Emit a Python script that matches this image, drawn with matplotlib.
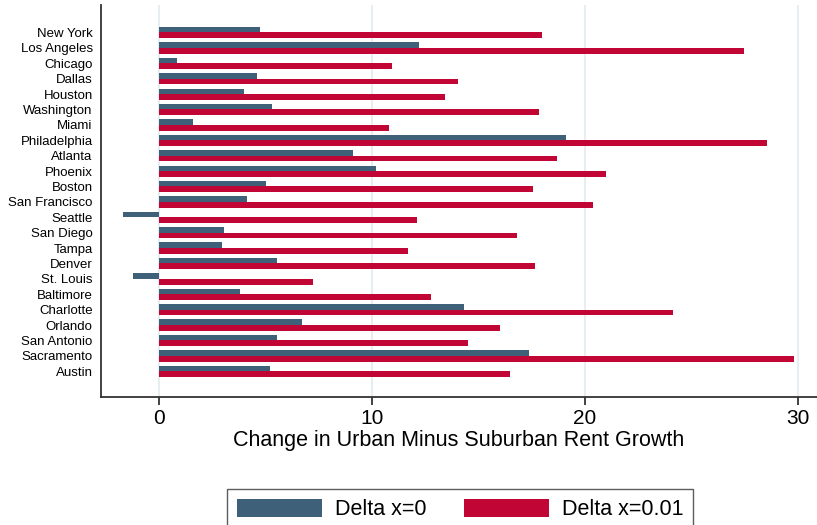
import matplotlib
matplotlib.use("Agg")
import matplotlib.pyplot as plt
import numpy as np
from matplotlib.patches import Patch

plt.rcParams['font.family'] = ['Liberation Sans', 'DejaVu Sans']

cities = ["New York", "Los Angeles", "Chicago", "Dallas", "Houston", "Washington",
          "Miami", "Philadelphia", "Atlanta", "Phoenix", "Boston", "San Francisco",
          "Seattle", "San Diego", "Tampa", "Denver", "St. Louis", "Baltimore",
          "Charlotte", "Orlando", "San Antonio", "Sacramento", "Austin"]
delta0 = [4.77, 12.23, 0.87, 4.62, 4.01, 5.33, 1.62, 19.13, 9.13, 10.21, 5.05, 4.15,
          -1.67, 3.08, 2.98, 5.56, -1.20, 3.83, 14.34, 6.74, 5.56, 17.39, 5.23]
delta001 = [18.00, 27.49, 10.96, 14.06, 13.45, 17.86, 10.82, 28.57, 18.71, 21.01, 17.58, 20.40,
            12.14, 16.83, 11.71, 17.67, 7.25, 12.79, 24.15, 16.03, 14.53, 29.84, 16.50]
xticks = [0, 10, 20, 30]
labels = ["Delta x=0", "Delta x=0.01"]
colors = ["#3e6079", "#c10534"]

fig = plt.figure(figsize=(8.17, 5.25), dpi=100)
ax = fig.add_axes([101/817, 1 - 397/525, 1 - 101/817, (397 - 5)/525])

y = np.arange(len(cities))
h = 0.37
ax.barh(y - 0.18, delta0, height=h, color=colors[0], zorder=3)
ax.barh(y + 0.18, delta001, height=h, color=colors[1], zorder=3)

ax.set_ylim(23.67, -1.79)
ax.set_xlim(-2.7, 30.9)
ax.set_yticks(y)
ax.set_yticklabels(cities, fontsize=9.5)
ax.tick_params(axis='y', length=0, pad=6)
ax.set_xticks(xticks)
ax.set_xticklabels([str(t) for t in xticks], fontsize=15)
ax.tick_params(axis='x', length=6, width=1.2, color="#222222", pad=3)
ax.grid(axis='x', color="#e6eef1", linewidth=1.5, zorder=0)
ax.set_axisbelow(True)
for s in ['top', 'right']:
    ax.spines[s].set_visible(False)
for s in ['left', 'bottom']:
    ax.spines[s].set_color("#333333")
    ax.spines[s].set_linewidth(1.3)
ax.set_xlabel("Change in Urban Minus Suburban Rent Growth", fontsize=15.5, labelpad=1)

handles = [Patch(facecolor=colors[0]), Patch(facecolor=colors[1])]
leg = fig.legend(handles, labels, loc='upper center', bbox_to_anchor=(460/817, 1 - 489/525),
                 ncol=2, fontsize=15.5, frameon=True, fancybox=False, edgecolor="#333333",
                 handlelength=3.95, handleheight=0.9, handletextpad=0.6, columnspacing=1.75,
                 borderpad=0.45, borderaxespad=0)
leg.get_frame().set_linewidth(1.0)

fig.savefig("out.png", dpi=100)
